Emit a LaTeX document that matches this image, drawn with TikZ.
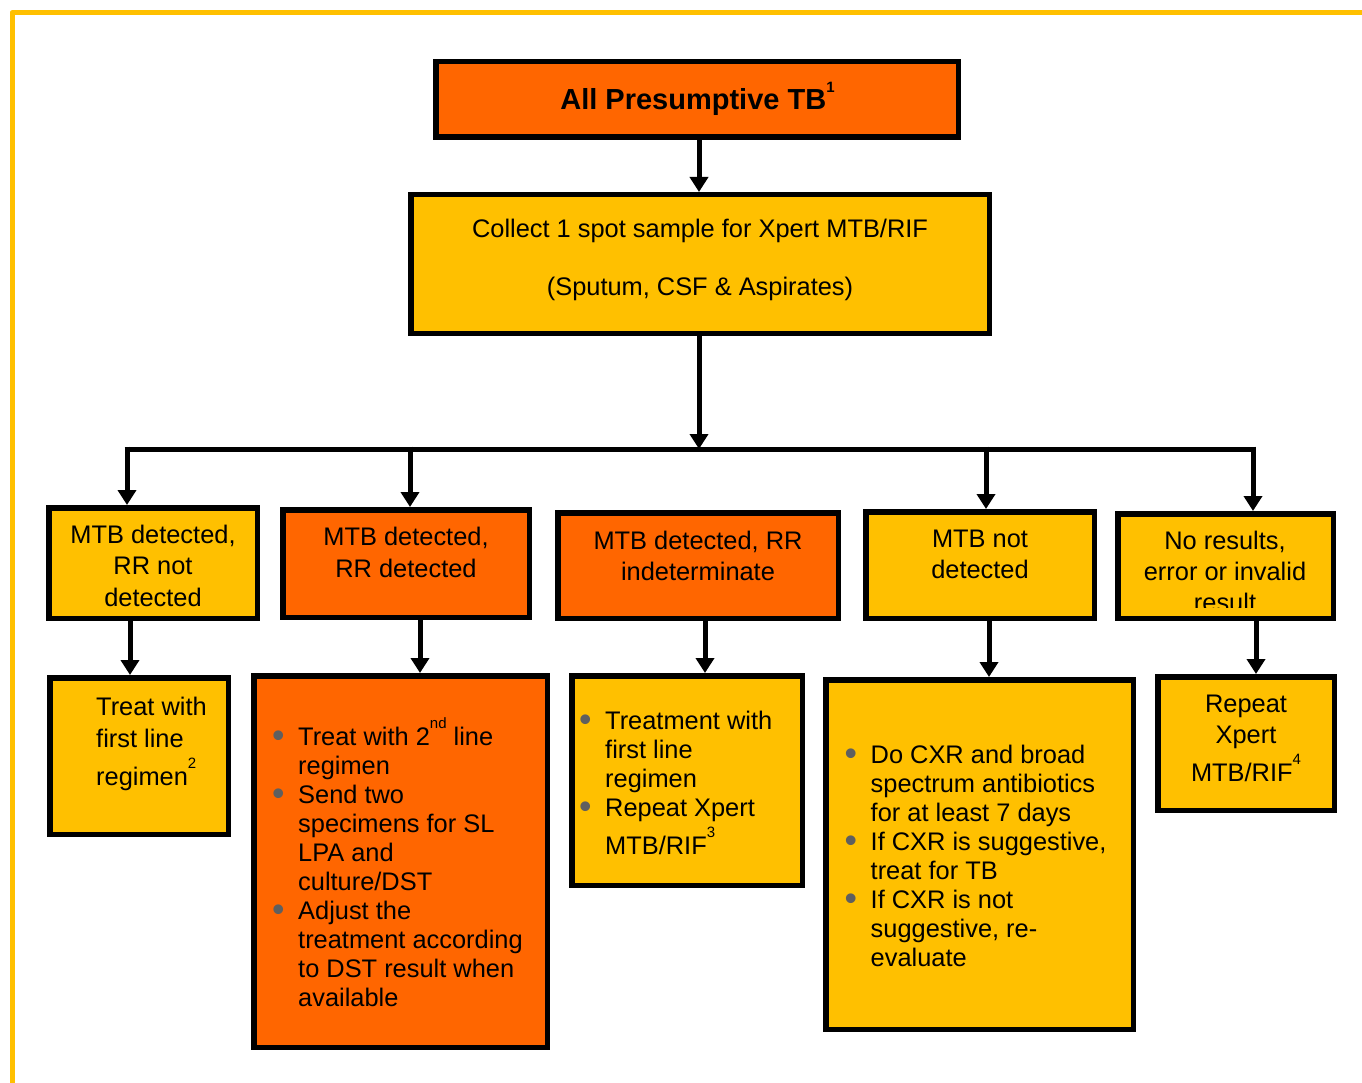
\documentclass[tikz,border=0pt]{standalone}
\usepackage{fontspec}
\setmainfont{Liberation Sans}
\usetikzlibrary{arrows.meta}
\definecolor{tbor}{HTML}{FF6600}
\definecolor{tbyel}{HTML}{FFC000}
\definecolor{bgray}{HTML}{5F5F5F}
\newcommand{\supx}[1]{\raisebox{17pt}[0pt][0pt]{\fontsize{15}{15}\selectfont #1}}
\newcommand{\bul}{\makebox[26.2pt][l]{\raisebox{-2.5pt}{\scalebox{1.4}{\textcolor{bgray}{\textbullet}}}}}
\tikzset{
  box/.style={draw=black, line width=5.5pt, inner sep=0pt},
  ybox/.style={box, fill=tbyel},
  obox/.style={box, fill=tbor},
  lbl/.style={inner sep=0pt, anchor=base, font=\fontsize{25.4}{31}\selectfont},
  ln/.style={line width=5pt, line join=round},
  arr/.style={line width=5pt, -{Triangle[width=18pt,length=15pt]}},
}
\begin{document}
\begin{tikzpicture}[x=1pt,y=-1pt]
\useasboundingbox (0,0) rectangle (1362,1083);
% frame
\draw[tbyel, line width=5pt, line join=round] (12,1090) -- (12,12.5) -- (1370,12.5);

% boxes
\node[obox, minimum width=522.5pt, minimum height=75.5pt] (top) at (697,99.5) {};
\node[ybox, minimum width=578.5pt, minimum height=138.5pt] (col) at (700,264) {};
\node[ybox, minimum width=208.5pt, minimum height=110.5pt] (r1) at (153,563) {};
\node[obox, minimum width=246.5pt, minimum height=107.5pt] (r2) at (406,563.5) {};
\node[obox, minimum width=280.5pt, minimum height=105.5pt] (r3) at (698,565.5) {};
\node[ybox, minimum width=228.5pt, minimum height=106.5pt] (r4) at (980,565) {};
\node[ybox, minimum width=215.5pt, minimum height=104.5pt] (r5) at (1225.5,566) {};
\node[ybox, minimum width=178.5pt, minimum height=156.5pt] (b1) at (139,756) {};
\node[obox, minimum width=293.5pt, minimum height=371.5pt] (b2) at (400.5,861.5) {};
\node[ybox, minimum width=230.5pt, minimum height=209.5pt] (b3) at (687,780.5) {};
\node[ybox, minimum width=307.5pt, minimum height=349.5pt] (b4) at (979.5,854.5) {};
\node[ybox, minimum width=176.5pt, minimum height=133.5pt] (b5) at (1246,743.5) {};

% texts
\node[lbl, font=\bfseries\fontsize{29}{33}\selectfont] (ttop) at (697.5,110)
  {All Presumptive TB\raisebox{17pt}[0pt][0pt]{\fontsize{15}{15}\selectfont 1}};
\node[lbl] (tcol) at (700,238)
  {\begin{tabular}[t]{@{}c@{}}Collect 1 spot sample for Xpert MTB/RIF\\[27pt](Sputum, CSF \& Aspirates)\end{tabular}};
\node[lbl, font=\fontsize{25.4}{31.5}\selectfont] (tr1) at (153,543)
  {\begin{tabular}[t]{@{}c@{}}MTB detected,\\RR not\\detected\end{tabular}};
\node[lbl, font=\fontsize{25.4}{32}\selectfont] (tr2) at (406,545)
  {\begin{tabular}[t]{@{}c@{}}MTB detected,\\RR detected\end{tabular}};
\node[lbl] (tr3) at (698,549)
  {\begin{tabular}[t]{@{}c@{}}MTB detected, RR\\indeterminate\end{tabular}};
\node[lbl] (tr4) at (980,547)
  {\begin{tabular}[t]{@{}c@{}}MTB not\\detected\end{tabular}};
\begin{scope}
\clip (1115,511) rectangle (1336,607);
\node[lbl] (tr5) at (1225,549)
  {\begin{tabular}[t]{@{}c@{}}No results,\\error or invalid\\result\end{tabular}};
\end{scope}
\node[lbl, anchor=base west, font=\fontsize{25.4}{32}\selectfont] (tb1) at (96,715)
  {\begin{tabular}[t]{@{}l@{}}Treat with\\first line\\[6pt]regimen\supx{2}\end{tabular}};
\node[lbl, anchor=base west, font=\fontsize{25.4}{29}\selectfont] (tb2) at (271.8,745)
  {\begin{tabular}[t]{@{}l@{}l@{}}\bul&Treat with 2\supx{nd} line\\&regimen\\\bul&Send two\\&specimens for SL\\&LPA and\\&culture/DST\\\bul&Adjust the\\&treatment according\\&to DST result when\\&available\end{tabular}};
\node[lbl, anchor=base west, font=\fontsize{25.4}{29}\selectfont] (tb3) at (578.8,729)
  {\begin{tabular}[t]{@{}l@{}l@{}}\bul&Treatment with\\&first line\\&regimen\\\bul&Repeat Xpert\\[9pt]&MTB/RIF\supx{3}\end{tabular}};
\node[lbl, anchor=base west, font=\fontsize{25.4}{29}\selectfont] (tb4) at (844.3,763)
  {\begin{tabular}[t]{@{}l@{}l@{}}\bul&Do CXR and broad\\&spectrum antibiotics\\&for at least 7 days\\\bul&If CXR is suggestive,\\&treat for TB\\\bul&If CXR is not\\&suggestive, re-\\&evaluate\end{tabular}};
\node[lbl] (tb5) at (1246,712)
  {\begin{tabular}[t]{@{}c@{}}Repeat\\Xpert\\[7pt]MTB/RIF\supx{4}\end{tabular}};

% connector coordinates
\coordinate (x0) at (699,0);
\coordinate (busL) at (127,449);
\coordinate (bus2) at (410,449);
\coordinate (busM) at (699,449);
\coordinate (bus4) at (986,449);
\coordinate (busR) at (1253,449);
\coordinate (d1) at (130,0);
\coordinate (d2) at (420,0);
\coordinate (d3) at (705,0);
\coordinate (d4) at (989,0);
\coordinate (d5) at (1256,0);

% connectors
\draw[arr] (top.south -| x0) -- (col.north -| x0);
\draw[ln] ([xshift=-2.5pt]busL) -- ([xshift=2.5pt]busR);
\draw[arr] (col.south -| busM) -- (busM);
\draw[arr] ([yshift=2.5pt]busL) -- (r1.north -| busL);
\draw[arr] ([yshift=2.5pt]bus2) -- (r2.north -| bus2);
\draw[arr] ([yshift=2.5pt]bus4) -- (r4.north -| bus4);
\draw[arr] ([yshift=2.5pt]busR) -- (r5.north -| busR);
\draw[arr] (r1.south -| d1) -- (b1.north -| d1);
\draw[arr] (r2.south -| d2) -- (b2.north -| d2);
\draw[arr] (r3.south -| d3) -- (b3.north -| d3);
\draw[arr] (r4.south -| d4) -- (b4.north -| d4);
\draw[arr] (r5.south -| d5) -- (b5.north -| d5);
\end{tikzpicture}
\end{document}
